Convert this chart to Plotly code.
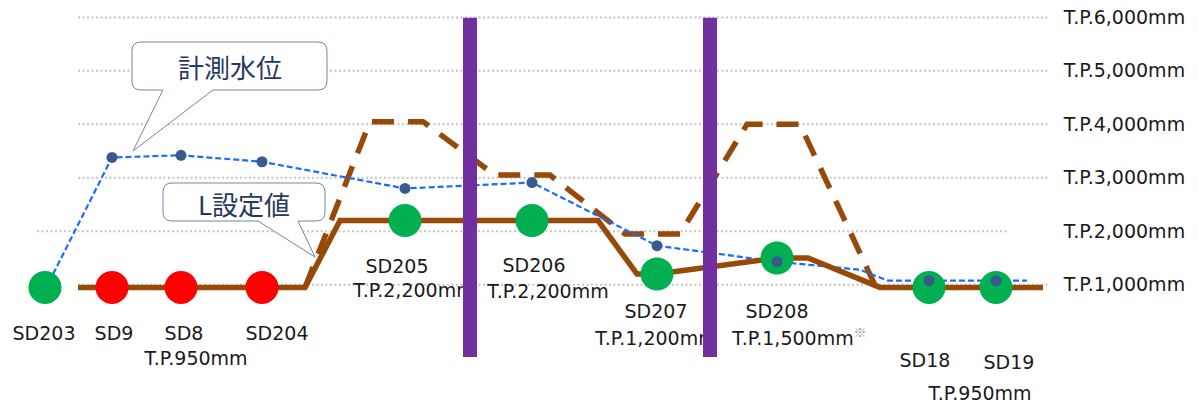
import plotly.graph_objects as go

# Monitoring stations along the channel (chainage in drawing units)
stations = ["SD203", "SD9", "SD8", "SD204", "SD205", "SD206", "SD207", "SD208", "SD18", "SD19"]
station_pos = [45, 112, 181, 262, 405, 532, 657, 777, 929, 996]
l_setting = [950, 950, 950, 950, 2200, 2200, 1200, 1500, 950, 950]      # L設定値 (T.P. mm)
alert = [False, True, True, True, False, False, False, False, False, False]
measured = [900, 3380, 3420, 3300, 2800, 2910, 1730, 1430, 1075, 1075]  # 計測水位 (T.P. mm)

# L設定値 profile
l_line_pos = [78, 305, 340, 598, 637, 657, 777, 808, 880, 1043]
l_line_val = [950, 950, 2200, 2200, 1200, 1200, 1500, 1500, 950, 950]

# extra bends of the measured water-level profile between stations
measured_extra_pos = [860, 888, 1027]
measured_extra_val = [1280, 1075, 1075]

# dashed upper profile
upper_pos = [305, 370, 423, 495, 550, 625, 680, 747, 800, 876]
upper_val = [950, 4050, 4050, 3050, 3050, 1950, 1950, 4000, 4000, 950]

gate_pos = [470, 710]
grid_levels = [1000, 2000, 3000, 4000, 5000, 6000]

# ---- layout constants ----
W, H = 1198, 404
PLOT_W = 1048
Y_BOT, Y_TOP = -1231, 6325
BROWN = "#984807"
GREEN = "#00B050"
RED = "#FF0000"
PURPLE = "#7030A0"
BLUE_LINE = "#1A6BFF"
BLUE_DOT = "#3A5A8E"
TEXT = "#1A1A1A"
FONT = "DejaVu Sans"
FS = 19


def lvl(y_px):
    """vertical pixel -> T.P. level on the y axis"""
    return Y_TOP - y_px * (Y_TOP - Y_BOT) / H


def paper(x_px, y_px):
    return x_px / PLOT_W, 1 - y_px / H


fig = go.Figure()

# upper dashed profile
fig.add_trace(go.Scatter(x=upper_pos, y=upper_val, mode="lines",
                         line=dict(color=BROWN, width=5.5, dash="22px,14px"),
                         hoverinfo="skip"))

# measured water level line
pts = sorted(list(zip(station_pos, measured)) + list(zip(measured_extra_pos, measured_extra_val)))
fig.add_trace(go.Scatter(x=[p[0] for p in pts], y=[p[1] for p in pts], mode="lines",
                         line=dict(color=BLUE_LINE, width=2.2, dash="6px,3px"),
                         hoverinfo="skip"))

# L設定値 line
fig.add_trace(go.Scatter(x=l_line_pos, y=l_line_val, mode="lines",
                         line=dict(color=BROWN, width=5.5), hoverinfo="skip"))

# station circles
fig.add_trace(go.Scatter(x=station_pos, y=l_setting, mode="markers",
                         marker=dict(size=33, color=[RED if a else GREEN for a in alert],
                                     line=dict(width=0)),
                         hoverinfo="skip"))

# measured points (first one sits beneath its station circle)
fig.add_trace(go.Scatter(x=station_pos[1:], y=measured[1:], mode="markers",
                         marker=dict(size=11, color=BLUE_DOT, line=dict(width=0)),
                         hoverinfo="skip"))

# station names
name_x = [44, 114, 184, 277, 397, 534, 656, 777, 925, 1009]
name_y = [335, 335, 335, 335, 268, 267, 313, 313, 362, 364]
fig.add_trace(go.Scatter(x=name_x, y=[lvl(v) for v in name_y], mode="text",
                         text=stations, textposition="middle center",
                         textfont=dict(family=FONT, size=FS, color=TEXT),
                         cliponaxis=False, hoverinfo="skip"))

# L設定値 value labels
val_idx = [2, 4, 5, 6, 7, 9]
val_x = [196, 414, 548, 656, 793, 980]
val_y = [360, 292, 293, 340, 340, 395]
fig.add_trace(go.Scatter(x=val_x, y=[lvl(v) for v in val_y], mode="text",
                         text=[f"T.P.{l_setting[i]:,}mm" for i in val_idx],
                         textposition="middle center",
                         textfont=dict(family=FONT, size=FS, color=TEXT),
                         cliponaxis=False, hoverinfo="skip"))
fig.add_trace(go.Scatter(x=[860], y=[lvl(334)], mode="text", text=["※"],
                         textposition="middle center",
                         textfont=dict(family="Noto Sans CJK JP", size=13, color="#9A9A9A"),
                         cliponaxis=False, hoverinfo="skip"))

shapes = []
# dotted guide lines
for g in grid_levels:
    x0, x1 = (37, 1008) if g == 2000 else (78, 1048)
    shapes.append(dict(type="line", xref="x", yref="y", x0=x0, x1=x1, y0=g, y1=g,
                       line=dict(color="#C4C4C4", width=2, dash="2px,2.5px"), layer="below"))

# gates
for gx in gate_pos:
    shapes.append(dict(type="rect", xref="x", yref="paper", x0=gx - 7, x1=gx + 7,
                       y0=1 - 357 / H, y1=1 - 17.7 / H,
                       fillcolor=PURPLE, line=dict(width=0), layer="above"))


def callout(x0, y0, x1, y1, r, bl, br, tip):
    p = [("M", (x0 + r, y0)), ("L", (x1 - r, y0)), ("Q", (x1, y0), (x1, y0 + r)),
         ("L", (x1, y1 - r)), ("Q", (x1, y1), (x1 - r, y1)), ("L", (br, y1)),
         ("L", tip), ("L", (bl, y1)), ("L", (x0 + r, y1)), ("Q", (x0, y1), (x0, y1 - r)),
         ("L", (x0, y0 + r)), ("Q", (x0, y0), (x0 + r, y0))]
    s = ""
    for cmd, *xy in p:
        s += cmd + " " + " ".join("%.5f,%.5f" % paper(*c) for c in xy) + " "
    return dict(type="path", xref="paper", yref="paper", path=s + "Z",
                fillcolor="white", line=dict(color="#6F86A8", width=1), layer="above")


shapes.append(callout(132, 42, 327, 90, 9, 163, 213, (133, 151)))
shapes.append(callout(163, 183, 325, 221, 9, 258, 298, (315, 257)))

annotations = []
for txt, (cx, cy) in [("計測水位", (229.5, 66)), ("L設定値", (244, 203))]:
    ax, ay = paper(cx, cy)
    annotations.append(dict(xref="paper", yref="paper", x=ax, y=ay, text=txt, showarrow=False,
                            xanchor="center", yanchor="middle",
                            font=dict(family="Noto Sans CJK JP", size=26, color="#253A5E")))

fig.update_layout(
    width=W, height=H,
    margin=dict(l=0, r=W - PLOT_W, t=0, b=0),
    paper_bgcolor="white", plot_bgcolor="white",
    showlegend=False,
    shapes=shapes, annotations=annotations,
    xaxis=dict(range=[0, PLOT_W], visible=False, fixedrange=True),
    yaxis=dict(range=[Y_BOT, Y_TOP], side="right", showgrid=False, zeroline=False,
               showline=False, tickvals=grid_levels,
               ticktext=[f"T.P.{g:,}mm" for g in grid_levels],
               ticks="outside", ticklen=11, tickcolor="rgba(0,0,0,0)",
               tickfont=dict(family=FONT, size=FS, color=TEXT), fixedrange=True),
)

fig.write_html("out.html")
